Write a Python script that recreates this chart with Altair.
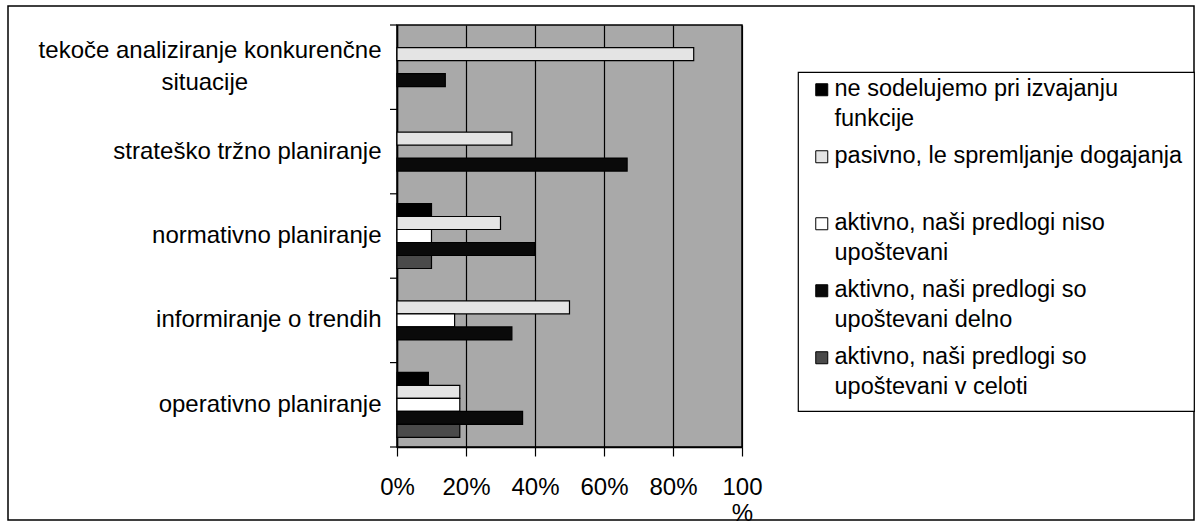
import altair as alt
import pandas as pd

# ---- data ----
categories = [
    "tekoče analiziranje konkurenčne situacije",
    "strateško tržno planiranje",
    "normativno planiranje",
    "informiranje o trendih",
    "operativno planiranje",
]
series = [
    "ne sodelujemo pri izvajanju funkcije",
    "pasivno, le spremljanje dogajanja",
    "aktivno, naši predlogi niso upoštevani",
    "aktivno, naši predlogi so upoštevani delno",
    "aktivno, naši predlogi so upoštevani v celoti",
]
ne_sodelujemo = [0, 0, 10, 0, 9.1]
pasivno = [86, 33.3, 30, 50, 18.2]
aktivno_niso = [0, 0, 10, 16.7, 18.2]
aktivno_delno = [14, 66.7, 40, 33.3, 36.4]
aktivno_celoti = [0, 0, 10, 0, 18.2]
x_ticks = [0, 20, 40, 60, 80, 100]

series_values = [ne_sodelujemo, pasivno, aktivno_niso, aktivno_delno, aktivno_celoti]
rows = []
for s, vals in zip(series, series_values):
    for c, v in zip(categories, vals):
        rows.append({"cat": c, "series": s, "value": v})
df = pd.DataFrame(rows)

colors = ["#000000", "#e4e4e4", "#ffffff", "#0a0a0a", "#4a4a4a"]

legend_lines = [
    ["ne sodelujemo pri izvajanju", "funkcije"],
    ["pasivno, le spremljanje dogajanja", ""],
    ["aktivno, naši predlogi niso", "upoštevani"],
    ["aktivno, naši predlogi so", "upoštevani delno"],
    ["aktivno, naši predlogi so", "upoštevani v celoti"],
]

def arr(lines):
    return "[" + ",".join("'" + l + "'" for l in lines) + "]"

legend_expr = ""
for s, lines in zip(series, legend_lines):
    legend_expr += f"datum.label == '{s}' ? {arr(lines)} : "
legend_expr += "datum.label"

nb = "\u00a0" * 20 + "\u200b"
y_label_expr = (
    f"datum.label == '{categories[0]}' ? "
    f"['tekoče analiziranje konkurenčne', 'situacije{nb}'] : datum.label"
)
x_label_expr = "datum.value == 100 ? ['100', '%'] : datum.value + '%'"

FONT = "Liberation Sans"

bars = (
    alt.Chart(df)
    .transform_filter("datum.value > 0")
    .mark_bar(stroke="black", strokeWidth=1.2)
    .encode(
        x=alt.X(
            "value:Q",
            scale=alt.Scale(domain=[0, 100], nice=False),
            axis=alt.Axis(
                values=x_ticks,
                title=None,
                labelExpr=x_label_expr,
                labelFlush=False,
                labelFont=FONT,
                labelFontSize=24,
                labelColor="black",
                labelPadding=19,
                labelLineHeight=26,
                tickSize=9,
                tickColor="black",
                tickWidth=1.2,
                domainColor="black",
                domainWidth=1.5,
                grid=True,
                gridColor="black",
                gridWidth=1.2,
            ),
        ),
        y=alt.Y(
            "cat:N",
            sort=categories,
            scale=alt.Scale(domain=categories, paddingInner=0, paddingOuter=0),
            axis=alt.Axis(
                title=None,
                ticks=False,
                labelExpr=y_label_expr,
                labelFont=FONT,
                labelFontSize=24,
                labelColor="black",
                labelLimit=450,
                labelPadding=16,
                labelLineHeight=32,
                labelBaseline={
                    "condition": {
                        "test": f"datum.value == '{categories[0]}'",
                        "value": "line-bottom",
                    },
                    "value": "middle",
                },
                domainColor="black",
                domainWidth=1.5,
            ),
        ),
        yOffset=alt.YOffset(
            "series:N",
            sort=series,
            scale=alt.Scale(domain=series, paddingInner=0, paddingOuter=0.745),
        ),
        color=alt.Color(
            "series:N",
            sort=series,
            scale=alt.Scale(domain=series, range=colors),
            legend=alt.Legend(
                title=None,
                orient="none",
                legendX=401,
                legendY=47,
                fillColor="white",
                strokeColor="black",
                padding=12,
                rowPadding=12,
                symbolType="M-1,-2H1V0H-1Z",
                symbolSize=144,
                symbolStrokeColor="black",
                symbolStrokeWidth=1,
                symbolOpacity=1,
                labelFont=FONT,
                labelFontSize=23.5,
                labelColor="black",
                labelLimit=450,
                labelOffset=1,
                labelBaseline="alphabetic",
                labelExpr=legend_expr,
            ),
        ),
    )
)

cat_df = pd.DataFrame({"cat": categories})
ticks_top = (
    alt.Chart(cat_df)
    .mark_rule(color="black", strokeWidth=1.2)
    .encode(
        y=alt.Y("cat:N", sort=categories, bandPosition=0),
        x=alt.value(-7),
        x2=alt.value(0),
    )
)
ticks_bottom = (
    alt.Chart(cat_df)
    .transform_filter(f"datum.cat == '{categories[-1]}'")
    .mark_rule(color="black", strokeWidth=1.2)
    .encode(
        y=alt.Y("cat:N", sort=categories, bandPosition=1),
        x=alt.value(-7),
        x2=alt.value(0),
    )
)

frame = (
    alt.Chart(pd.DataFrame({"k": [0]}))
    .mark_rect(fillOpacity=0, stroke="black", strokeWidth=1.5)
    .encode(
        x=alt.value(-389),
        x2=alt.value(797),
        y=alt.value(-19),
        y2=alt.value(495),
    )
)

chart = (
    alt.layer(frame, bars, ticks_top, ticks_bottom)
    .properties(
        width=345,
        height=422,
        autosize=alt.AutoSizeParams(type="none"),
        padding={"left": 397, "top": 25, "right": 454, "bottom": 78},
        background="white",
    )
    .configure(style={"guide-label": {"lineHeight": 30}})
    .configure_view(fill="#a9a9a9", stroke="black", strokeWidth=1.5)
    .configure_legend(strokeWidth=1.2)
)

chart.save("out.html", embed_options={"renderer": "svg", "actions": False})
